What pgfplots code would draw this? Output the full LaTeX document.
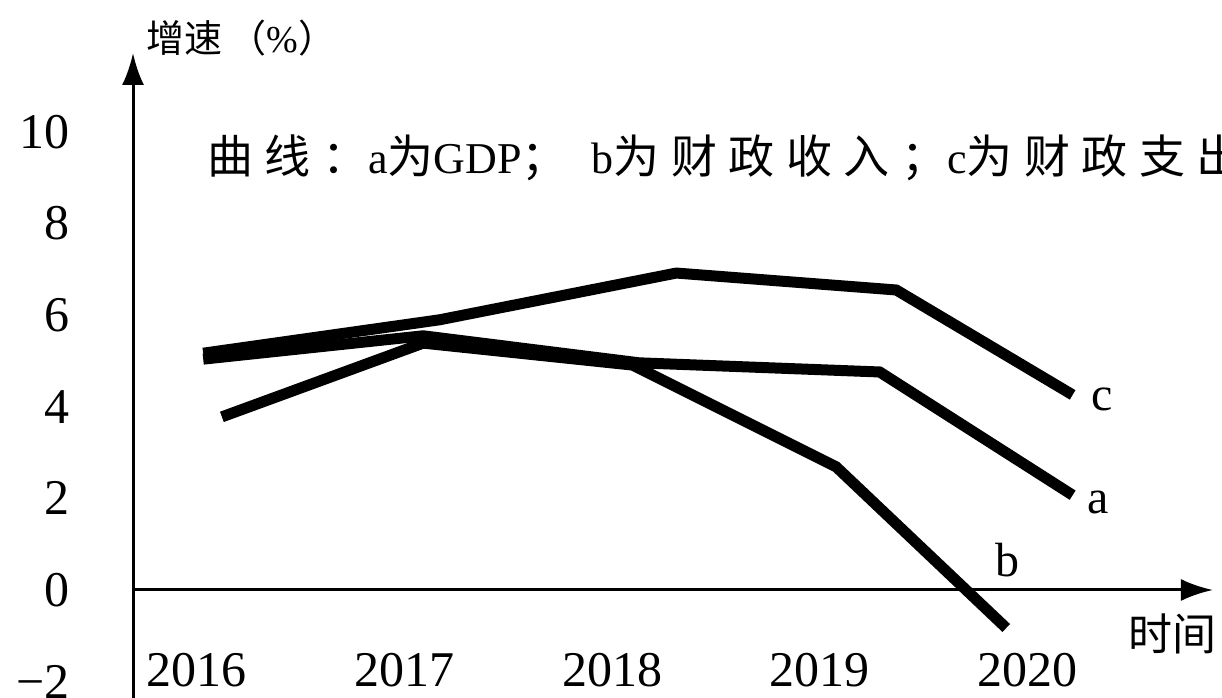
\documentclass[border=0pt]{standalone}
\usepackage{fontspec}
\setmainfont{Liberation Serif}
\newfontfamily\cjk[LetterSpace=25]{Noto Sans CJK SC}
\newfontfamily\cjkb{Noto Sans CJK SC}
\newcommand{\C}[1]{{\cjk\fontsize{23pt}{23pt}\selectfont #1}}
\usepackage{pgfplots}
\pgfplotsset{compat=1.18}
\usetikzlibrary{arrows.meta}
\pgfplotsset{curve/.style={black, line width=5.5pt, line join=miter, no marks}}

\begin{document}
\begin{tikzpicture}
\begin{axis}[
  x=103.75pt, y=22.9pt,
  xmin=2015.6916, xmax=2020.896,
  ymin=-2.6, ymax=11.725,
  axis x line=middle, axis y line=left,
  axis line style={line width=1.5pt, -{Latex[length=16pt,width=11pt]}},
  xtick={2016,2017,2018,2019,2020},
  xticklabels={2016,2017,2018,2019,2020},
  ytick={-2,0,2,4,6,8,10},
  yticklabels={−2,0,2,4,6,8,10},
  major tick length=0pt,
  tick style={draw=none},
  xticklabel style={anchor=base, yshift=-48.5pt, font=\fontsize{25pt}{25pt}\selectfont},
  yticklabel style={anchor=east, xshift=-28pt, font=\fontsize{25pt}{25pt}\selectfont},
  clip=false,
]
% a: GDP
\addplot[curve] coordinates {(2016.03,5.04) (2017.09,5.55) (2018.13,4.96) (2019.29,4.76) (2020.22,2.07)};
% b: fiscal revenue
\addplot[curve] coordinates {(2016.12,3.78) (2017.09,5.39) (2018.10,4.91) (2019.08,2.69) (2019.90,-0.83)};
% c: fiscal expenditure
\addplot[curve] coordinates {(2016.03,5.17) (2017.17,5.90) (2018.31,6.92) (2019.37,6.55) (2020.22,4.26)};

\node[font=\fontsize{24pt}{24pt}\selectfont] at (axis cs:2020.361,4.15) {c};
\node[font=\fontsize{24pt}{24pt}\selectfont] at (axis cs:2020.342,1.92) {a};
\node[font=\fontsize{24pt}{24pt}\selectfont] at (axis cs:2019.904,0.655) {b};

\node[font=\fontsize{19pt}{19pt}\selectfont] at (axis cs:2016.215,12.05) {{\cjkb 增速\,（}\%{\cjkb ）}};
\node[anchor=west, inner sep=0pt, font=\cjkb\fontsize{22pt}{22pt}\selectfont] at (axis cs:2020.487,-0.96) {时间};
\node[anchor=base west, inner sep=0pt, font=\fontsize{22pt}{22pt}\selectfont] at (axis cs:2016.048,9.1)
  {\C{曲线：}a\C{为}GDP\C{；}\hspace{12pt}b\C{为财政收入；}c\C{为财政支出}};

\coordinate (TL) at (axis cs:2015.0506,12.882);
\coordinate (BR) at (axis cs:2020.9398,-2.358);
\end{axis}
\pgfresetboundingbox
\useasboundingbox (TL) rectangle (BR);
\end{tikzpicture}
\end{document}
